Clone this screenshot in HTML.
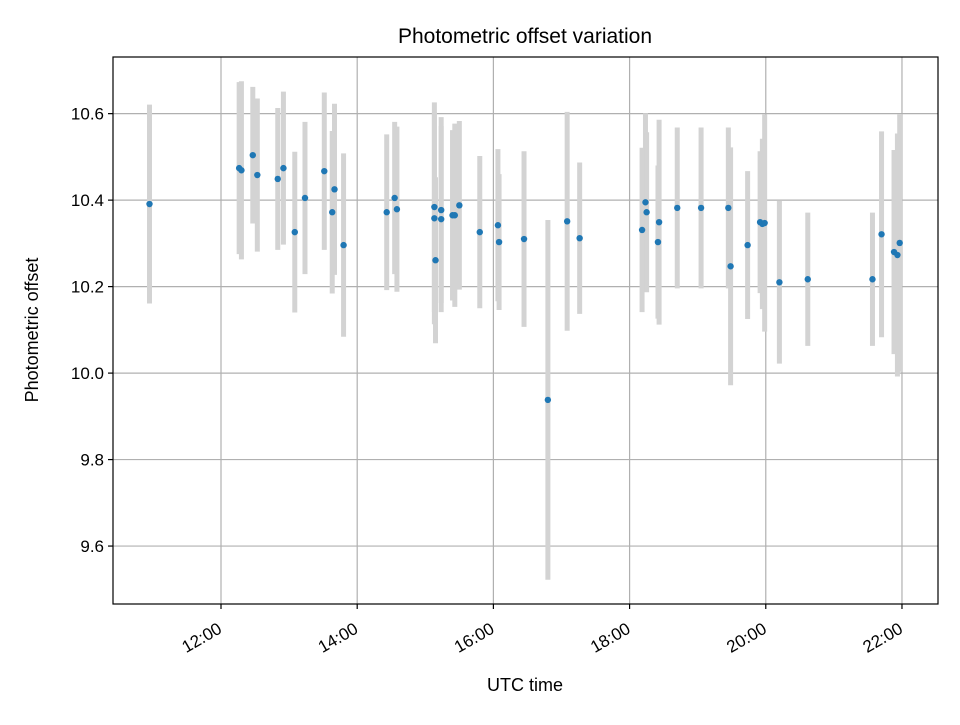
<!DOCTYPE html>
<html><head><meta charset="utf-8"><style>
body{margin:0;background:#fff}
svg{font-family:"Liberation Sans","DejaVu Sans",sans-serif}
</style></head><body>
<svg id="chart" width="960" height="720" xmlns="http://www.w3.org/2000/svg">
<rect width="960" height="720" fill="#fff"/>
<g id="grid"></g>
<g id="bars"></g>
<g id="pts"></g>
<rect x="113" y="57" width="825" height="547" fill="none" stroke="#000" stroke-width="1.2"/>
<g id="ticks"></g>
<text x="525" y="43" font-size="21" text-anchor="middle">Photometric offset variation</text>
<text x="525" y="691" font-size="18" text-anchor="middle">UTC time</text>
<text transform="translate(38,330) rotate(-90)" font-size="18" text-anchor="middle">Photometric offset</text>
</svg>
<script>
const times=["10:57","12:16","12:18","12:28","12:32","12:50","12:55","13:05","13:14","13:31","13:38","13:40","13:48","14:26","14:33","14:35","15:08","15:08","15:09","15:14","15:14","15:24","15:26","15:30","15:48","16:04","16:05","16:27","16:48","17:05","17:16","18:11","18:14","18:15","18:26","18:25","18:42","19:03","19:27","19:29","19:44","19:55","19:57","19:59","20:12","20:37","21:34","21:42","21:53","21:56","21:58"];
const values=[10.391,10.474,10.469,10.504,10.458,10.449,10.474,10.326,10.405,10.467,10.372,10.425,10.296,10.372,10.405,10.379,10.384,10.358,10.261,10.377,10.356,10.365,10.365,10.388,10.326,10.342,10.303,10.310,9.938,10.351,10.312,10.331,10.395,10.372,10.349,10.303,10.382,10.382,10.382,10.247,10.296,10.349,10.345,10.347,10.210,10.217,10.217,10.321,10.280,10.273,10.301];
const errors=[0.230,0.199,0.206,0.158,0.177,0.164,0.177,0.186,0.176,0.182,0.188,0.198,0.212,0.180,0.176,0.191,0.242,0.245,0.192,0.215,0.215,0.197,0.212,0.195,0.176,0.176,0.157,0.203,0.416,0.253,0.175,0.190,0.206,0.185,0.237,0.177,0.186,0.186,0.186,0.275,0.171,0.164,0.197,0.251,0.188,0.154,0.154,0.238,0.236,0.281,0.298];
const yTicks=[9.6,9.8,10.0,10.2,10.4,10.6];
const xTicks=["12:00","14:00","16:00","18:00","20:00","22:00"];
const X0=113,X1=938,Y0=57,Y1=604,xmin=10.414,xmax=22.529,ymin=9.466,ymax=10.731;
const ns="http://www.w3.org/2000/svg";
function hrs(t){const p=t.split(':');return +p[0]+p[1]/60;}
function sx(h){return X0+(h-xmin)/(xmax-xmin)*(X1-X0);}
function sy(v){return Y1-(v-ymin)/(ymax-ymin)*(Y1-Y0);}
function mk(tag,attrs,parent){const e=document.createElementNS(ns,tag);for(const k in attrs)e.setAttribute(k,attrs[k]);document.getElementById(parent).appendChild(e);return e;}
yTicks.forEach(v=>{const y=sy(v);
 let g=mk('line',{x1:X0,x2:X1,y1:y,y2:y,stroke:'#b0b0b0','stroke-width':1.2},'grid');
 
 
 let t=mk('line',{x1:X0-5,x2:X0,y1:y,y2:y,stroke:'#000','stroke-width':1.2},'ticks');
 
 
 let l=mk('text',{x:X0-9,y:y+6,'font-size':17,'text-anchor':'end'},'ticks');l.textContent=v.toFixed(1);
 
 
});
xTicks.forEach(s=>{const x=sx(hrs(s));
 let g=mk('line',{x1:x,x2:x,y1:Y0,y2:Y1,stroke:'#b0b0b0','stroke-width':1.2},'grid');
 
 
 let t=mk('line',{x1:x,x2:x,y1:Y1,y2:Y1+5,stroke:'#000','stroke-width':1.2},'ticks');
 
 
 let l=mk('text',{transform:`translate(${x+2},${Y1+28}) rotate(-30)`,'font-size':17,'text-anchor':'end',y:0},'ticks');l.textContent=s;
 
 
});
times.forEach((t,i)=>{const x=sx(hrs(t));
 let b=mk('line',{x1:x,x2:x,y1:sy(values[i]+errors[i]),y2:sy(values[i]-errors[i]),stroke:'#d3d3d3','stroke-width':5},'bars');
 
 
});
times.forEach((t,i)=>{const x=sx(hrs(t));
 let c=mk('circle',{cx:x,cy:sy(values[i]),r:3.2,fill:'#1f77b4'},'pts');
 
 
});
</script>
</body></html>
